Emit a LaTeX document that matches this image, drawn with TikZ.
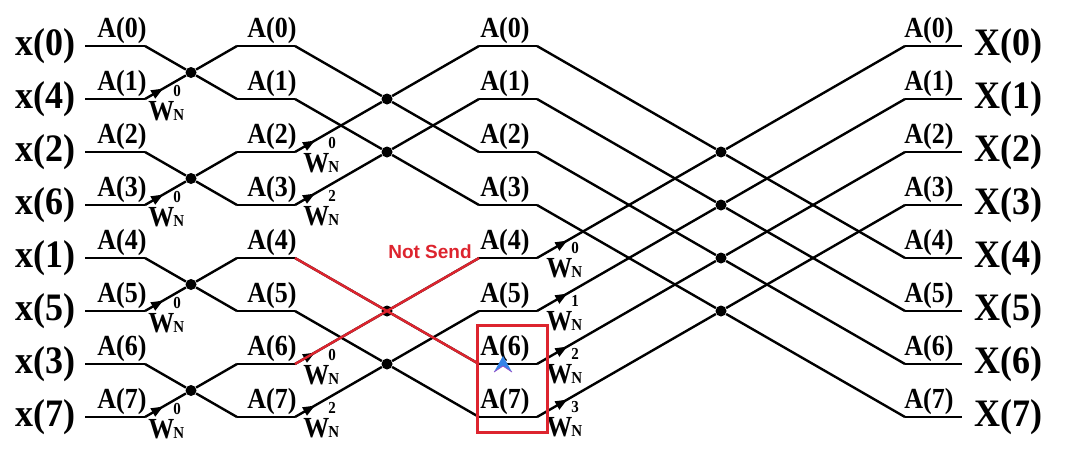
\documentclass[tikz,border=0pt]{standalone}
\usepackage{fontspec}
\setmainfont{Liberation Serif}
\newfontfamily\notefont{Liberation Sans}
\usetikzlibrary{arrows.meta,calc,decorations.markings}
\definecolor{sendred}{RGB}{221,36,46}
\definecolor{cursorblue}{RGB}{52,132,232}
\definecolor{cursorpurple}{RGB}{150,80,200}
% twiddle factor W_N^k, exponent stacked over the N
\newcommand{\twf}[1]{W\kern-0.5pt\rlap{\raisebox{10.5pt}{\fontsize{7.5}{7.5}\selectfont#1}}{\fontsize{7.5}{7.5}\selectfont N}}
\tikzset{
  wire/.style={line width=1.2pt},
  twiddle/.style={postaction={decorate}, decoration={markings, mark=at position #1 with {\arrow{Triangle[length=6pt,width=4.5pt]}}}},
  bfdot/.style={circle, fill, inner sep=0pt, minimum size=5.5pt},
  inlab/.style={font=\fontsize{18}{18}\selectfont\bfseries, anchor=east, inner sep=0pt, yscale=1.08, transform shape},
  outlab/.style={font=\fontsize{18}{18}\selectfont\bfseries, anchor=west, inner sep=0pt, yscale=1.08, transform shape},
  alab/.style={font=\fontsize{13}{13}\selectfont\bfseries, anchor=south, inner sep=0pt, yscale=1.12, transform shape},
  wlab/.style={font=\fontsize{13}{13}\selectfont\bfseries, anchor=base west, inner sep=0pt, yscale=1.12, transform shape},
}

\begin{document}
\begin{tikzpicture}[x=0.5pt, y=-0.5pt]
  \useasboundingbox (0,0) rectangle (1080,450);

  % rows of the flow graph
  \foreach \r in {0,...,7} {
    \pgfmathsetmacro\y{46+53*\r}
    \coordinate (i\r) at (85,\y);
    \coordinate (p\r) at (145,\y);
    \coordinate (q\r) at (237,\y);
    \coordinate (s\r) at (295,\y);
    \coordinate (t\r) at (479,\y);
    \coordinate (u\r) at (537,\y);
    \coordinate (v\r) at (905,\y);
    \coordinate (o\r) at (962,\y);
  }

  % horizontal wires with their A labels
  \foreach \r in {0,...,7} {
    \draw[wire] (i\r) -- (p\r);
    \draw[wire] (q\r) -- (s\r);
    \draw[wire] (t\r) -- (u\r);
    \draw[wire] (v\r) -- (o\r);
    \node[alab] at ($(p\r)+(-23,-2)$) {A(\r)};
    \node[alab] at ($(s\r)+(-23,-2)$) {A(\r)};
    \node[alab] at ($(t\r)+(26,-2)$) {A(\r)};
    \node[alab] at ($(v\r)+(24,-2)$) {A(\r)};
    \node[outlab] (X\r) at ($(o\r)+(12,0)$) {X(\r)};
  }

  % inputs in bit-reversed order
  \foreach \r/\k in {0/0,1/4,2/2,3/6,4/1,5/5,6/3,7/7}
    \node[inlab] (x\k) at ($(i\r)+(-9,0)$) {x(\k)};

  % stage 1
  \foreach \a/\b in {0/1,2/3,4/5,6/7} {
    \node[bfdot] (bf1-\a) at ($(p\a)!0.5!(q\b)$) {};
    \draw[wire] (p\a) -- (bf1-\a) -- (q\b);
    \draw[wire, twiddle=10.5pt] (p\b) -- (bf1-\a);
    \draw[wire] (bf1-\a) -- (q\a);
    \node[wlab] at ($(p\b)+(3,21)$) {\twf{0}};
  }

  % stage 2
  \foreach \a/\b/\w in {0/2/0,1/3/2,4/6/0,5/7/2} {
    \node[bfdot] (bf2-\a) at ($(s\a)!0.5!(t\b)$) {};
    \draw[wire] (s\a) -- (bf2-\a) -- (t\b);
    \draw[wire, twiddle=11.5pt] (s\b) -- (bf2-\a);
    \draw[wire] (bf2-\a) -- (t\a);
    \node[wlab] at ($(s\b)+(8,20)$) {\twf{\w}};
  }

  % stage 3
  \foreach \a/\b/\w in {0/4/0,1/5/1,2/6/2,3/7/3} {
    \node[bfdot] (bf3-\a) at ($(u\a)!0.5!(v\b)$) {};
    \draw[wire] (u\a) -- (bf3-\a) -- (v\b);
    \draw[wire, twiddle=17.5pt] (u\b) -- (bf3-\a);
    \draw[wire] (bf3-\a) -- (v\a);
    \node[wlab] at ($(u\b)+(9,19)$) {\twf{\w}};
  }

  % the pair that is not sent
  \draw[wire, sendred] (s4) -- (t6);
  \draw[wire, sendred] (s6) -- (t4);
  \node[font=\notefont\bfseries\fontsize{9.5}{10}\selectfont, text=sendred] (notsend) at (430,252) {Not Send};
  \draw[sendred, line width=1.5pt] (477,325) rectangle (547,432);

  % cursor mark
  \fill[cursorblue] (503,356) -- (512,372) -- (503,366) -- (494,372) -- cycle;
  \draw[cursorpurple, line width=0.4pt] (494,372) -- (503,366) -- (512,372);
\end{tikzpicture}
\end{document}
